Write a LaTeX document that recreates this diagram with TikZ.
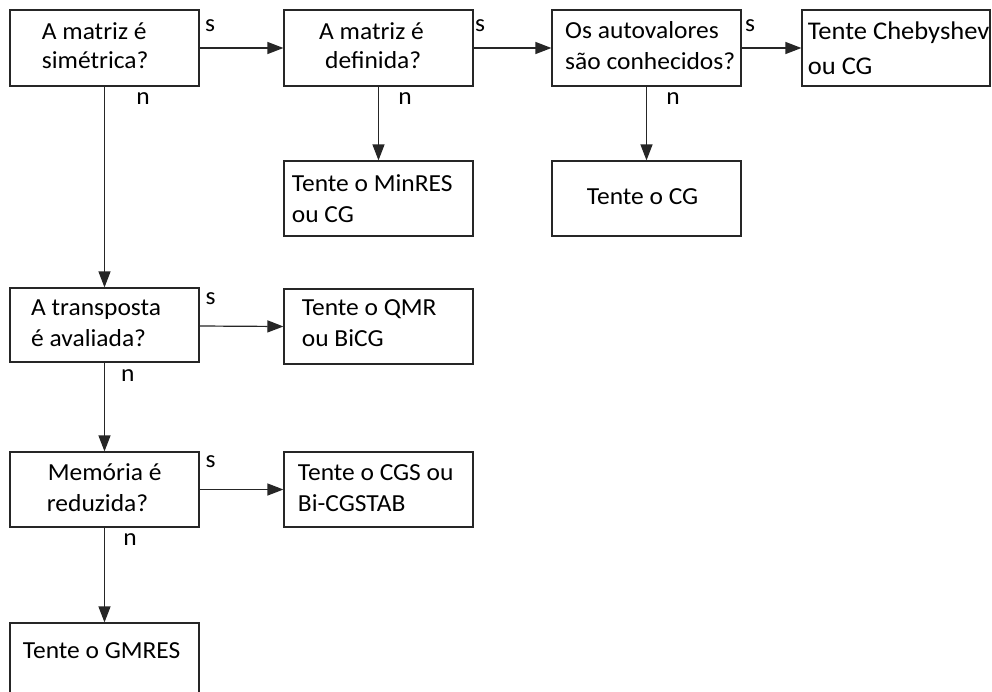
\documentclass[tikz,border=0pt]{standalone}
\usepackage{fontspec}
\setmainfont{Carlito}[FakeStretch=1.04]
\usetikzlibrary{arrows.meta}
\definecolor{ink}{HTML}{262626}
\begin{document}
\begin{tikzpicture}[x=1pt,y=-1pt,
  box/.style={draw=ink, line width=1.2pt, minimum width=189pt, minimum height=75pt, inner sep=0pt},
  txt/.style={anchor=base west, inner sep=0pt, text=black, font=\fontsize{24.5}{30}\selectfont},
  bigtxt/.style={txt, font=\fontsize{25.5}{30}\selectfont},
  lbl/.style={inner sep=0pt, text=black, font=\fontsize{24.5}{30}\selectfont},
  arr/.style={draw=ink, line width=1.2pt, -{Triangle[length=16pt,width=12pt]}}]
\useasboundingbox (0,0) rectangle (992,691);
\fill[white] (0,0) rectangle (992,691);
\clip (0,0) rectangle (992,691);
% boxes
\node[box, minimum height=76pt] (b1) at (104.5,48) {};
\node[box, minimum height=76pt] (b2) at (378.5,48) {};
\node[box, minimum height=76pt] (b3) at (646.5,48) {};
\node[box, minimum width=188pt, minimum height=76pt] (cheb) at (896,48) {};
\node[box] (minres) at (378.5,198.5) {};
\node[box] (cg) at (646.5,198.5) {};
\node[box, minimum height=74pt] (tr) at (104.5,325) {};
\node[box] (qmr) at (378.5,326.5) {};
\node[box] (mem) at (104.5,489.5) {};
\node[box] (cgs) at (378.5,489.5) {};
\node[box, minimum height=76pt] (gm) at (104.5,661) {};
% texts
\node[txt] (t1a) at (41.7,39) {A matriz é};
\node[txt] (t1b) at (41.7,68.5) {simétrica?};
\node[txt] (t2a) at (319,39) {A matriz é};
\node[txt] (t2b) at (325,68.5) {definida?};
\node[txt] (t3a) at (565,38) {Os autovalores};
\node[txt] (t3b) at (565,69.5) {são conhecidos?};
\node[bigtxt] (t4a) at (807.7,39.5) {Tente Chebyshev};
\node[bigtxt] (t4b) at (807.7,74) {ou CG};
\node[txt] (t5a) at (291.7,191.5) {Tente o MinRES};
\node[txt] (t5b) at (291.7,222) {ou CG};
\node[txt] (t6a) at (586.7,204) {Tente o CG};
\node[txt] (t7a) at (31,315) {A transposta};
\node[txt] (t7b) at (31,346.5) {é avaliada?};
\node[txt] (t8a) at (301.7,315) {Tente o QMR};
\node[txt] (t8b) at (301.7,346.5) {ou BiCG};
\node[txt] (t9a) at (47.7,480.5) {Memória é};
\node[txt] (t9b) at (46.7,511.5) {reduzida?};
\node[txt] (t10a) at (297.7,480.5) {Tente o CGS ou};
\node[txt] (t10b) at (297.7,511.5) {Bi-CGSTAB};
\node[txt] (t11a) at (22.7,658) {Tente o GMRES};
% connectors
\draw[arr] (b1.east) -- (b2.west);
\draw[arr] (b2.east) -- (b3.west);
\draw[arr] (b3.east) -- (cheb.west);
\draw[arr] (b1.south) -- (tr.north);
\draw[arr] (b2.south) -- (minres.north);
\draw[arr] (b3.south) -- (cg.north);
\draw[arr] (tr.east |- 0,326) -- (qmr.west);
\draw[arr] (tr.south) -- (mem.north);
\draw[arr] (mem.east) -- (cgs.west);
\draw[arr] (mem.south) -- (gm.north);
% labels
\node[lbl] (s1) at (210,26) {s};
\node[lbl] (s2) at (480,26) {s};
\node[lbl] (s3) at (750,26) {s};
\node[lbl] (n1) at (143,99) {n};
\node[lbl] (n2) at (405,99) {n};
\node[lbl] (n3) at (673,99) {n};
\node[lbl] (s4) at (210.7,299) {s};
\node[lbl] (n4) at (127.7,376) {n};
\node[lbl] (s5) at (210.7,462) {s};
\node[lbl] (n5) at (130,540) {n};
\end{tikzpicture}
\end{document}
